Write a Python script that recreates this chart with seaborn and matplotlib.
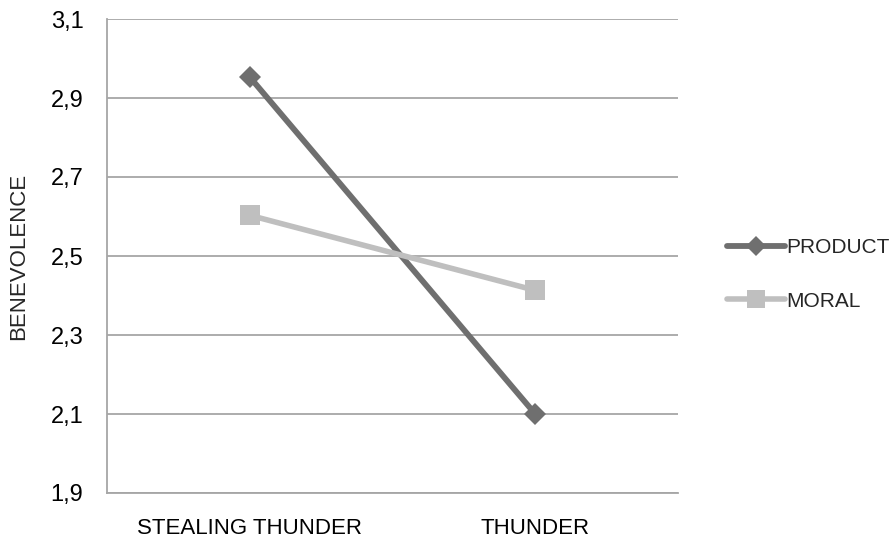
import matplotlib
matplotlib.use("Agg")
import matplotlib.pyplot as plt
import seaborn as sns
import pandas as pd

categories = ["STEALING THUNDER", "THUNDER"]
product = [2.953, 2.10]
moral = [2.603, 2.413]
series_names = ["PRODUCT", "MORAL"]
yticks = [1.9, 2.1, 2.3, 2.5, 2.7, 2.9, 3.1]
ytick_labels = ["1,9", "2,1", "2,3", "2,5", "2,7", "2,9", "3,1"]

sns.set_style("white")
plt.rcParams['font.family'] = ['Liberation Sans', 'DejaVu Sans']

df = pd.DataFrame({
    "cat": categories * 2,
    "value": product + moral,
    "series": [series_names[0]] * 2 + [series_names[1]] * 2,
})

fig = plt.figure(figsize=(8.92, 5.43), dpi=100)
ax = fig.add_axes([107/892, 50/543, (678-107)/892, (493-19)/543])

styles = {
    "PRODUCT": dict(color="#6f6f6f", marker="D", markersize=11, linewidth=4.2),
    "MORAL": dict(color="#bfbfbf", marker="s", markersize=14, linewidth=4.0),
}
for name in series_names:
    sub = df[df["series"] == name]
    sns.lineplot(data=sub, x="cat", y="value", ax=ax, label=name,
                 markeredgewidth=0, **styles[name])

ax.set_xlim(-0.5, 1.5)
ax.set_ylim(1.9, 3.1)
ax.set_yticks(yticks)
ax.set_yticklabels(ytick_labels)
ax.yaxis.grid(True, color="#a6a6a6", linewidth=1.3)
ax.set_axisbelow(True)
for s in ["top", "right"]:
    ax.spines[s].set_visible(False)
for s in ["left", "bottom"]:
    ax.spines[s].set_color("#a6a6a6")
    ax.spines[s].set_linewidth(1.3)
ax.tick_params(axis="y", length=0, labelsize=17, colors="black", pad=17)
ax.tick_params(axis="x", length=0, labelsize=16, colors="black", pad=18)
ax.set_xlabel("")
ax.set_ylabel("BENEVOLENCE", fontsize=16)
ax.yaxis.set_label_coords((29 - 107) / 571, 0.5)

leg = ax.legend(loc="center left", bbox_to_anchor=(1.0 + (722 - 678) / 571 - 0.01, 0.461),
                frameon=False, fontsize=15, handlelength=2.8, handletextpad=0.05,
                labelspacing=1.65, borderpad=0)
for h in leg.legend_handles:
    h.set_markersize(h.get_markersize() * 0.88)

fig.savefig("out.png", dpi=100)
